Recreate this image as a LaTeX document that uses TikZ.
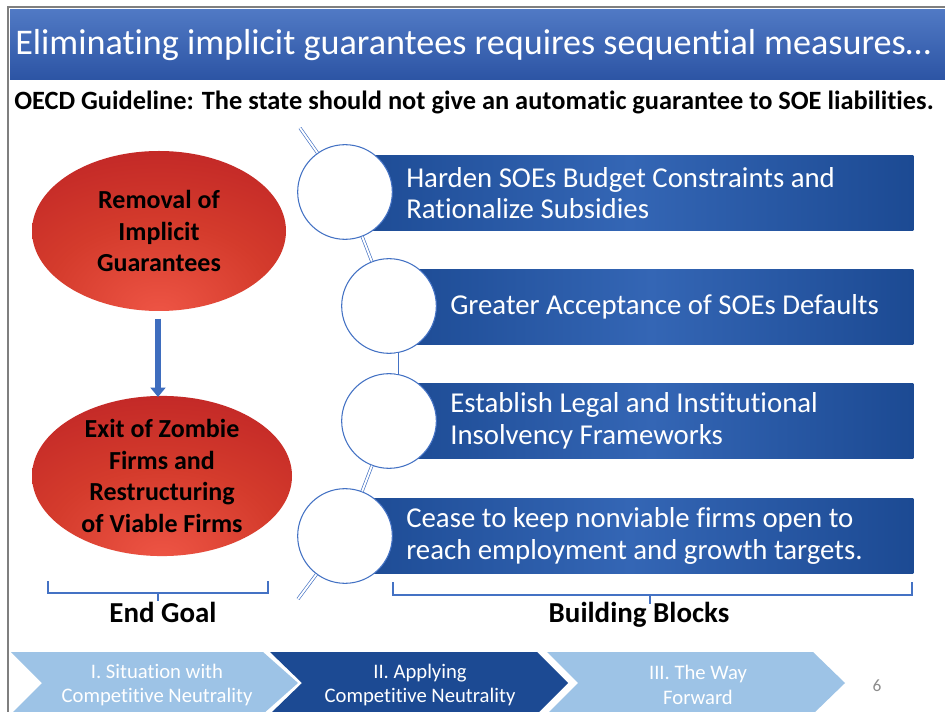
\documentclass[tikz,border=0pt]{standalone}
\usepackage{fontspec}
\setmainfont{Carlito}[Ligatures={NoCommon,NoContextual,NoRare},Contextuals={NoAlternate},RawFeature={-liga;-clig;-dlig;-calt}]
\usetikzlibrary{shapes.geometric,arrows.meta}
\definecolor{framegray}{HTML}{7F7F7F}
\definecolor{titletop}{HTML}{5079C4}
\definecolor{titlebot}{HTML}{2C54A4}
\definecolor{redlight}{HTML}{EE5545}
\definecolor{redmid}{HTML}{D43B2C}
\definecolor{reddark}{HTML}{B81D24}
\definecolor{bdark}{HTML}{1C4A93}
\definecolor{blight}{HTML}{3466B5}
\definecolor{ringblue}{HTML}{4472C4}
\definecolor{arrowblue}{HTML}{3E6DBE}
\definecolor{chevlight}{HTML}{9DC3E6}
\definecolor{numgray}{HTML}{8C8C8C}
\pgfdeclareradialshading{redglow}{\pgfpoint{0bp}{-26bp}}{color(0bp)=(redlight); color(22bp)=(redmid); color(52bp)=(reddark); color(90bp)=(reddark)}
\tikzset{
  goal/.style={ellipse, shading=redglow, text=black, align=center, inner sep=0pt,
    font=\bfseries\fontsize{19.5}{23.7}\selectfont},
  blockbox/.style={rectangle, anchor=west, inner sep=0pt, minimum height=56pt,
    left color=bdark, right color=bdark, middle color=blight},
  blocktext/.style={anchor=west, align=left, text=white, inner sep=0pt,
    font=\fontsize{21.6}{23.7}\selectfont},
  ring/.style={circle, draw=ringblue, line width=0.8pt, fill=white, minimum size=71pt, inner sep=0pt},
  chain/.style={draw=ringblue, double=white, line width=0.5pt, double distance=1.4pt},
  bracket/.style={draw=ringblue, line width=1.6pt},
  chevtext/.style={align=center, text=white, inner sep=0pt, font=\fontsize{15.5}{18.5}\selectfont},
  labeltext/.style={text=black, inner sep=0pt, font=\bfseries\fontsize{21.7}{24}\selectfont},
}
\begin{document}
\begin{tikzpicture}[x=0.75pt, y=-0.75pt]
\useasboundingbox (0,0) rectangle (945,712);
\fill[white] (0,0) rectangle (945,712);
% slide frame
\draw[framegray, line width=1.2pt] (8,712) -- (8,7) -- (945,7);
% title bar
\shade[top color=titletop, bottom color=titlebot] (10,10) rectangle (945,80);
\node[anchor=west, text=white, inner sep=0pt, font=\fontsize{27.1}{30}\selectfont] (title) at (15,45) {Eliminating implicit guarantees requires sequential measures…};
\node[anchor=west, text=black, inner sep=0pt, font=\bfseries\fontsize{19.8}{22}\selectfont] (sub) at (14,102) {OECD Guideline: The state should not give an automatic guarantee to SOE liabilities.};

% left goals
\node[goal, minimum width=190.5pt, minimum height=120pt] (e1) at (159,231) {Removal of\\Implicit\\Guarantees};
\node[goal, minimum width=195pt, minimum height=113pt] (e2) at (162,476) {Exit of Zombie\\Firms and\\Restructuring\\of Viable Firms};
\draw[arrowblue, line width=4.5pt, -{Triangle[width=11pt,length=7pt]}, shorten <=5pt, shorten >=3pt]
  (158,312) coordinate (a1) -- (158,401) coordinate (a2);

% building blocks
\node[blockbox, minimum width=426pt] (b1) at (345,193) {};
\node[blockbox, minimum width=393pt] (b2) at (389,307) {};
\node[blockbox, minimum width=393pt] (b3) at (389,421) {};
\node[blockbox, minimum width=426pt] (b4) at (345,536) {};
\node[blocktext] (t1) at (406,193) {Harden SOEs Budget Constraints and\\Rationalize Subsidies};
\node[blocktext] (t2) at (450,307) {Greater Acceptance of SOEs Defaults};
\node[blocktext] (t3) at (450,421) {Establish Legal and Institutional\\Insolvency Frameworks};
\node[blocktext] (t4) at (406,536) {Cease to keep nonviable firms open to\\reach employment and growth targets.};

\node[ring] (c1) at (345,192) {};
\node[ring] (c2) at (389,306) {};
\node[ring] (c3) at (389,421) {};
\node[ring] (c4) at (345,536) {};
\coordinate (ctop) at (300,128);
\coordinate (cbot) at (298,599);
\draw[chain] (ctop) -- (c1);
\draw[chain] (c1) -- (c2);
\draw[chain] (c2.-80) -- (c3.80);
\draw[chain] (c3) -- (c4);
\draw[chain] (c4) -- (cbot);

% brackets
\draw[bracket] (48,581) -- (48,593) -- (268,593) -- (268,581);
\draw[bracket] (158,593) -- (158,601);
\draw[bracket] (393,582) -- (393,595) -- (912,595) -- (912,582);
\draw[bracket] (650,595) -- (650,604);
\node[labeltext] (lg) at (163,612) {End Goal};
\node[labeltext] (lb) at (639,615) {Building Blocks};

% chevrons
\fill[chevlight] (11,652) -- (263,652) -- (298,683) -- (263,714) -- (11,714) -- (42,683) -- cycle;
\shade[left color=bdark, middle color=blight, right color=bdark] (270,652) -- (537,652) -- (568,683) -- (537,714) -- (270,714) -- (302,683) -- cycle;
\fill[chevlight] (547,652) -- (813,652) -- (845,683) -- (813,714) -- (547,714) -- (578,683) -- cycle;
\node[chevtext] (h1) at (157,685) {I. Situation with\\Competitive Neutrality};
\node[chevtext] (h2) at (420,685) {II. Applying\\Competitive Neutrality};
\node[chevtext] (h3) at (698,685) {III. The Way\\Forward};
\node[text=numgray, inner sep=0pt, font=\fontsize{13}{15}\selectfont] (pg) at (877,686) {6};
\end{tikzpicture}
\end{document}
